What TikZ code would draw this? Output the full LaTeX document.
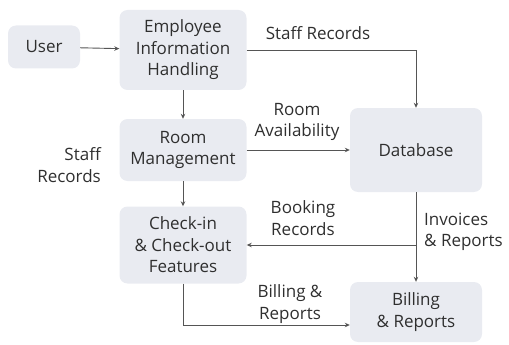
\documentclass[tikz,border=0pt]{standalone}
\usepackage{fontspec}
\setmainfont{Open Sans}
\usetikzlibrary{arrows.meta}

\definecolor{boxfill}{HTML}{E9EBF1}
\definecolor{inkgrey}{HTML}{2F2F2F}
\definecolor{linegrey}{HTML}{555555}

\tikzset{
  block/.style={draw=none, fill=boxfill, rounded corners=8pt, align=center,
    text=inkgrey, inner sep=2pt},
  flow/.style={-{Stealth[length=5pt,width=4.5pt]}, draw=linegrey, line width=0.9pt},
  tag/.style={align=center, text=inkgrey, inner sep=1pt}
}

\begin{document}
\begin{tikzpicture}[x=1pt, y=-1pt, font=\fontsize{17}{21.5}\selectfont]
    \useasboundingbox (0,0) rectangle (509,345);

    % Bloki
    \node[block, minimum width=72pt, minimum height=43pt] (user) at (44,47) {User};
    \node[block, minimum width=127pt, minimum height=80pt] (emp) at (183,50) {Employee\\Information\\Handling};
    \node[block, minimum width=127pt, minimum height=62pt] (room) at (183,150) {Room\\Management};
    \node[block, minimum width=127pt, minimum height=77pt] (check) at (183,245) {Check-in\\\& Check-out\\Features};
    \node[block, minimum width=132pt, minimum height=84pt] (db) at (416,150) {Database};
    \node[block, minimum width=132pt, minimum height=60pt] (bill) at (416,312) {Billing\\\& Reports};

    % Przepływy
    \draw[flow] (user) -- (emp);
    \draw[flow] (emp) -| (db);
    \draw[flow] (emp) -- (room);
    \draw[flow] (room) -- (db);
    \draw[flow] (room) -- (check);
    \draw[flow] (db) -- (bill);
    \coordinate (split) at (416,245);
    \draw[flow] (split) -- (check);
    \draw[flow] (check) |- ([yshift=-13pt]bill.west);

    % Opisy
    \node[tag] (lstaff) at (318,33) {Staff Records};
    \node[tag] (lavail) at (297,122) {Room\\Availability};
    \node[tag, align=right, anchor=east] (lstaff2) at (102,165) {Staff\\Records};
    \node[tag] (lbook) at (303,218) {Booking\\Records};
    \node[tag, align=left, anchor=west] (linv) at (423,232) {Invoices\\\& Reports};
    \node[tag] (lbill) at (290,304) {Billing \&\\Reports};
\end{tikzpicture}
\end{document}
